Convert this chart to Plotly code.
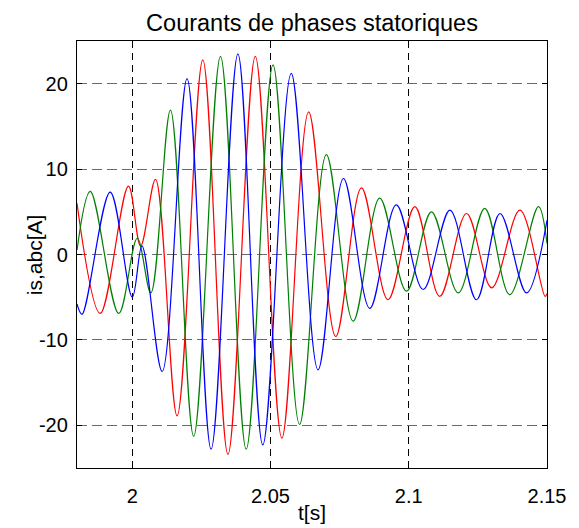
import plotly.graph_objects as go

# Phase currents: extrema (time [s], current [A])
t_a = [1.9800, 1.9884, 1.9986, 2.0030, 2.0084, 2.0162, 2.0255, 2.0346, 2.0445, 2.0541,
       2.0638, 2.0736, 2.0829, 2.0925, 2.1022, 2.1112, 2.1209, 2.1300, 2.1402, 2.1493, 2.1500]
i_a = [6.0, -6.9, 8.0, 1.0, 8.8, -18.9, 22.8, -23.4, 23.2, -21.5,
       16.7, -9.6, 7.8, -5.3, 5.6, -4.9, 4.8, -3.9, 5.2, -4.9, -4.6]

t_b = [1.9800, 1.9848, 1.9951, 2.0018, 2.0067, 2.0138, 2.0222, 2.0319, 2.0412, 2.0509,
       2.0605, 2.0702, 2.0799, 2.0895, 2.0992, 2.1082, 2.1179, 2.1275, 2.1365, 2.1469, 2.1500]
i_b = [0.5, 7.4, -6.9, 1.9, -4.5, 16.9, -21.3, 23.2, -22.8, 22.2,
       -19.9, 11.7, -7.8, 6.6, -4.3, 5.0, -4.5, 5.4, -4.7, 5.6, 1.3]

t_c = [1.9800, 1.9818, 1.9920, 2.0000, 2.0035, 2.0108, 2.0198, 2.0285, 2.0382, 2.0472,
       2.0575, 2.0672, 2.0764, 2.0859, 2.0955, 2.1052, 2.1149, 2.1245, 2.1330, 2.1426, 2.1500]
i_c = [-5.8, -7.0, 7.3, -5.0, 1.0, -13.7, 20.6, -22.8, 23.5, -22.3,
       21.2, -13.5, 8.9, -6.3, 5.8, -4.1, 5.2, -5.3, 4.8, -4.5, 4.0]

x_ticks = [2.0, 2.05, 2.1, 2.15]
x_tick_labels = ["2", "2.05", "2.1", "2.15"]
y_ticks = [-20, -10, 0, 10, 20]
y_tick_labels = ["-20", "-10", "0", "10", "20"]

title_text = "Courants de phases statoriques"
x_label = "t[s]"
y_label = "is,abc[A]"

FONT = "Liberation Sans, Arial, sans-serif"

fig = go.Figure()
for t, i, c in [(t_a, i_a, "#ff0000"), (t_b, i_b, "#008000"), (t_c, i_c, "#0000ff")]:
    fig.add_trace(go.Scatter(x=t, y=i, mode="lines",
                             line=dict(color=c, width=1.2, shape="spline", smoothing=1.0),
                             showlegend=False, hoverinfo="skip"))

axis_common = dict(
    showline=True, linecolor="black", linewidth=1.3, mirror="ticks",
    ticks="inside", ticklen=5, tickcolor="black", tickwidth=1,
    showgrid=True, zeroline=False,
    tickfont=dict(family=FONT, size=20, color="black"),
)

fig.update_xaxes(range=[1.98, 2.15], tickvals=x_ticks, ticktext=x_tick_labels,
                 gridcolor="black", gridwidth=1, griddash="7px,5px",
                 ticklabelstandoff=10, **axis_common)
fig.update_yaxes(range=[-25, 25], tickvals=y_ticks, ticktext=y_tick_labels,
                 gridcolor="#6a6a6a", gridwidth=1.3, griddash="10px,5px",
                 ticklabelstandoff=4, **axis_common)

fig.update_layout(
    width=579, height=528,
    margin=dict(l=77, r=32, t=41, b=60),
    paper_bgcolor="white", plot_bgcolor="white",
    title=dict(text=title_text, x=0.5, xref="paper", y=1 - 23 / 528, yref="container",
               xanchor="center", yanchor="middle",
               font=dict(family=FONT, size=23.5, color="black")),
    annotations=[
        dict(text=x_label, xref="paper", yref="paper", x=0.5, y=-0.105,
             xanchor="center", yanchor="middle", showarrow=False,
             font=dict(family=FONT, size=21, color="black")),
        dict(text=y_label, xref="paper", yref="paper", x=-0.09, y=0.5,
             xanchor="center", yanchor="middle", showarrow=False, textangle=-90,
             font=dict(family=FONT, size=21, color="black")),
    ],
)

fig.write_html("out.html")
